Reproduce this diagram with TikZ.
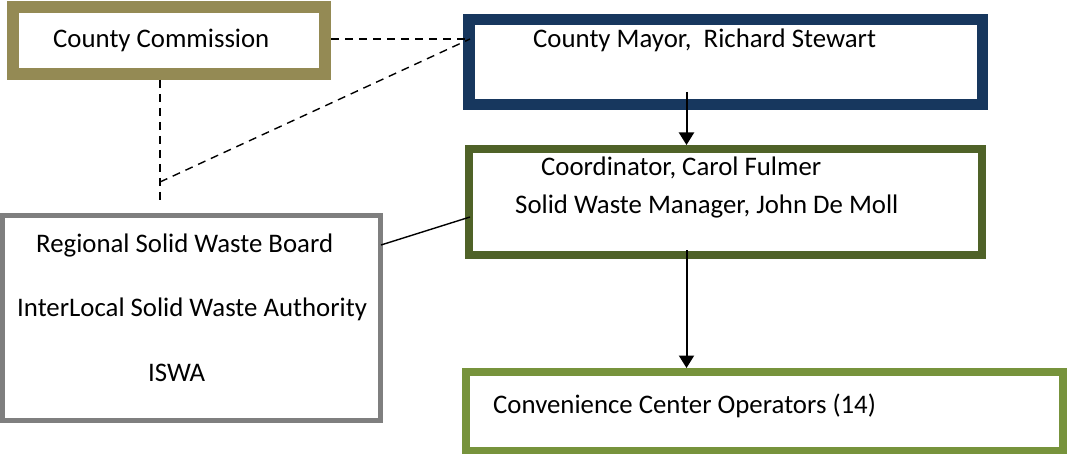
\documentclass[tikz,border=0pt]{standalone}
\usepackage{fontspec}
\setmainfont{Carlito}
\usetikzlibrary{arrows.meta}
\definecolor{ccol}{HTML}{948A54}
\definecolor{mcol}{HTML}{17375E}
\definecolor{dcol}{HTML}{4F6228}
\definecolor{vcol}{HTML}{77933C}
\definecolor{rcol}{HTML}{7F7F7F}
\tikzset{
  orgbox/.style={draw, fill=white, inner sep=0pt, rectangle},
  lbl/.style={anchor=base west, inner sep=0pt, font=\fontsize{26.8}{31}\selectfont},
  dashlink/.style={line width=1.4pt, dash pattern=on 8pt off 6pt},
  solidlink/.style={line width=1.4pt},
  arrowlink/.style={line width=2pt, -{Triangle[length=12.5pt,width=15pt]}}
}
\begin{document}
\begin{tikzpicture}[x=1pt,y=-1pt]
\useasboundingbox (0,0) rectangle (1067,454);
% boxes
\node[orgbox, draw=ccol, line width=12pt, minimum width=312pt, minimum height=67pt] (cc) at (169,40.5) {};
\node[orgbox, draw=mcol, line width=11.5pt, minimum width=513.5pt, minimum height=85pt] (cm) at (725.5,62.25) {};
\node[orgbox, draw=dcol, line width=8pt, minimum width=513pt, minimum height=106pt] (cd) at (725.5,202) {};
\node[orgbox, draw=vcol, line width=8pt, minimum width=597pt, minimum height=79pt] (cv) at (764.5,411.5) {};
\node[orgbox, draw=rcol, line width=5pt, minimum width=378pt, minimum height=205pt] (rb) at (191.5,318) {};
% texts
\node[lbl] (t1) at (53,48) {County Commission};
\node[lbl] (t2) at (533,48) {County Mayor,\ \ Richard Stewart};
\node[lbl] (t3) at (541,176) {Coordinator, Carol Fulmer};
\node[lbl] (t4) at (515,214) {Solid Waste Manager, John De Moll};
\node[lbl] (t5) at (36,252) {Regional Solid Waste Board};
\node[lbl] (t6) at (17,316) {InterLocal Solid Waste Authority};
\node[lbl] (t7) at (148,381) {ISWA};
\node[lbl] (t8) at (493,413) {Convenience Center Operators (14)};
% connectors
\coordinate (mleft) at (470,39);
\coordinate (vend) at (160,205);
\coordinate (vj) at (160,182);
\draw[dashlink] (cc.east |- mleft) -- (mleft);
\draw[dashlink] (cc.south -| vend) -- (vend);
\draw[dashlink] (vj) -- (mleft);
\coordinate (rbr) at (381,245);
\coordinate (cdl) at (470,217);
\draw[solidlink] (rbr) -- (cdl);
\coordinate (a1) at (686.5,92);
\coordinate (a2) at (686.5,250);
\draw[arrowlink] (a1) -- (a1 |- cd.north);
\draw[arrowlink] (a2) -- (a2 |- cv.north);
\end{tikzpicture}
\end{document}
